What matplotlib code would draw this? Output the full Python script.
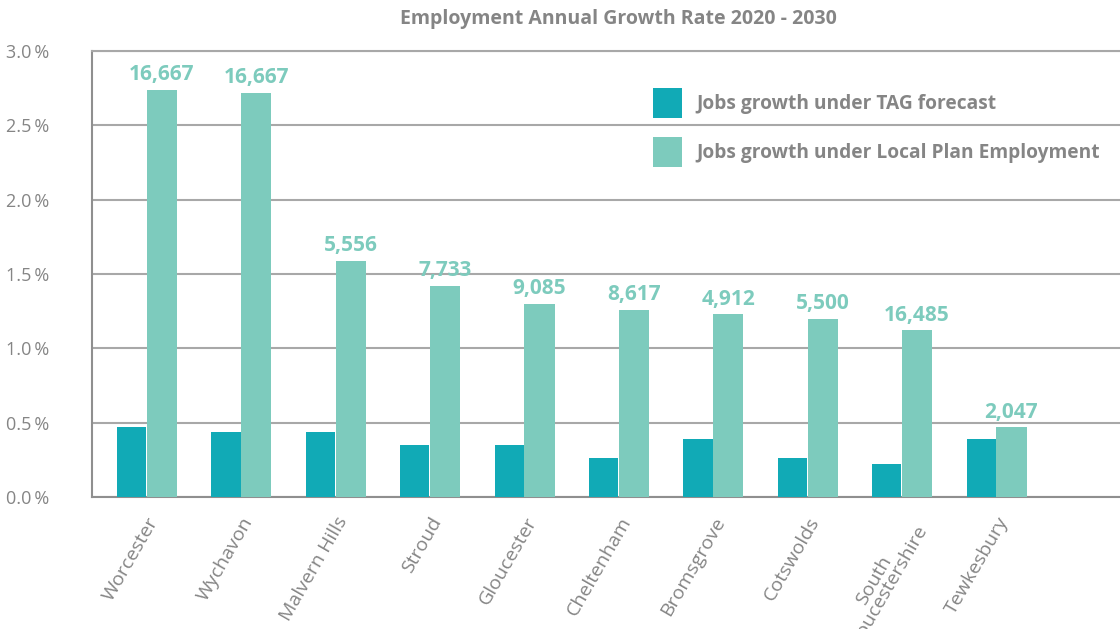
import matplotlib
matplotlib.use("Agg")
import matplotlib.pyplot as plt
import numpy as np

# ---------------------------------------------------------------------------
# Data
# ---------------------------------------------------------------------------
districts = ["Worcester", "Wychavon", "Malvern Hills", "Stroud", "Gloucester",
             "Cheltenham", "Bromsgrove", "Cotswolds", "South\nGloucestershire",
             "Tewkesbury"]
tag_growth = [0.47, 0.44, 0.44, 0.35, 0.35, 0.26, 0.39, 0.26, 0.22, 0.39]
local_plan_growth = [2.74, 2.72, 1.59, 1.42, 1.30, 1.26, 1.23, 1.20, 1.12, 0.47]
local_plan_jobs = ["16,667", "16,667", "5,556", "7,733", "9,085",
                   "8,617", "4,912", "5,500", "16,485", "2,047"]
y_ticks = [0.0, 0.5, 1.0, 1.5, 2.0, 2.5, 3.0]

TAG_COLOR = "#11aab6"
LP_COLOR = "#7dcbbd"
TEXT_COLOR = "#858585"
GRID_COLOR = "#a8a8a8"

plt.rcParams["font.family"] = ["Open Sans", "DejaVu Sans"]

fig = plt.figure(figsize=(11.2, 6.29), dpi=100)
ax = fig.add_axes([92 / 1120, 1 - 497 / 629, (1120 - 92) / 1120, (497 - 51) / 629])

x = np.arange(len(districts))
w = 0.32
ax.bar(x - w / 2, tag_growth, width=w - 0.01, color=TAG_COLOR,
       label="Jobs growth under TAG forecast", zorder=3)
bars = ax.bar(x + w / 2, local_plan_growth, width=w, color=LP_COLOR,
              label="Jobs growth under Local Plan Employment", zorder=3)

for rect, lab in zip(bars, local_plan_jobs):
    ax.text(rect.get_x() + rect.get_width() / 2, rect.get_height() + 0.03, lab,
            ha="center", va="bottom", color=LP_COLOR, fontsize=15,
            fontweight="bold")

ax.set_xlim(-0.58, 10.31)
ax.set_ylim(0, 3.0)
ax.set_yticks(y_ticks)
ax.set_yticklabels([f"{v:.1f}\u2009%" for v in y_ticks], color=TEXT_COLOR, fontsize=13)
ax.tick_params(axis="y", length=0, pad=31)
ax.set_xticks(x)
ax.set_xticklabels(districts, rotation=60, ha="right", rotation_mode="anchor",
                   color=TEXT_COLOR, fontsize=14, linespacing=0.85,
                   multialignment="center")
ax.tick_params(axis="x", length=0, pad=12)

ax.grid(axis="y", color=GRID_COLOR, linewidth=1.5, zorder=0)
ax.spines["right"].set_visible(False)
ax.spines["top"].set_color(GRID_COLOR)
ax.spines["top"].set_linewidth(1.5)
ax.spines["left"].set_color("#8f8f8f")
ax.spines["left"].set_linewidth(1.5)
ax.spines["bottom"].set_color("#8f8f8f")
ax.spines["bottom"].set_linewidth(1.5)

leg = ax.legend(loc="upper left", bbox_to_anchor=(0.529, 0.955), frameon=False,
                fontsize=13.8, handlelength=1.5, handleheight=2.0,
                labelspacing=1.0, handletextpad=0.75)
for t in leg.get_texts():
    t.set_color(TEXT_COLOR)
    t.set_fontweight("bold")

fig.text(0.552, 0.97, "Employment Annual Growth Rate 2020 - 2030", ha="center",
         va="center", color=TEXT_COLOR, fontsize=14, fontweight="bold")

fig.savefig("out.png", dpi=100)
